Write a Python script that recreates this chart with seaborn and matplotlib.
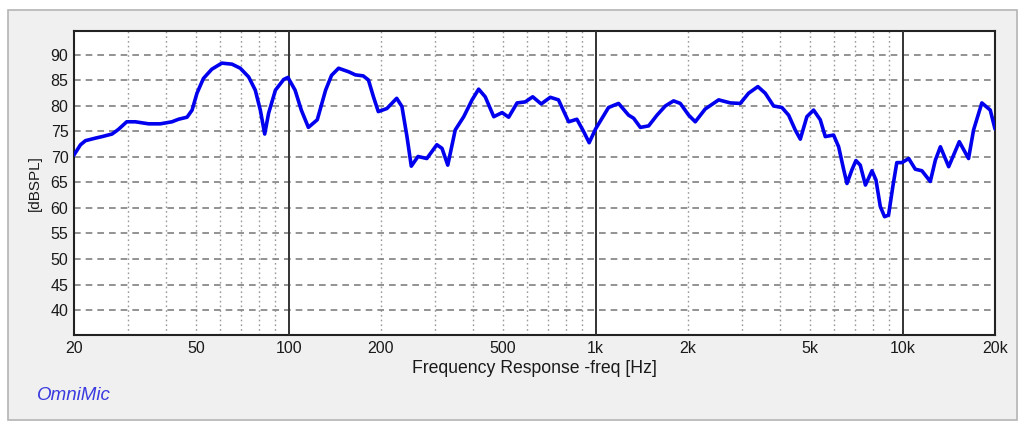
import matplotlib
matplotlib.use("Agg")
import matplotlib.pyplot as plt
import matplotlib.patches as patches
from matplotlib.ticker import FixedLocator, NullFormatter
import seaborn as sns
import pandas as pd

# Frequency response (Hz, dBSPL)
freq = [20, 21, 21.8, 23.5, 24.7, 26.6, 27.9, 29.7, 31.7, 35, 38.2, 41.7, 43.8, 46.7,
        48.5, 50.3, 52.8, 56.2, 60.6, 65.4, 69.6, 74.1, 77.9, 80.9, 83.6, 86.1, 90.6,
        96.4, 99.5, 105, 110, 116, 124, 132, 138, 145.5, 157, 165, 175, 182, 189, 196,
        209, 225, 234, 243, 251, 264, 282, 304, 316, 330, 349, 372, 396, 416, 437, 466,
        496, 521, 555, 590, 624, 665, 712, 757, 817, 869, 914, 953, 1000, 1102, 1188,
        1281, 1330, 1399, 1489, 1585, 1687, 1795, 1888, 2010, 2112, 2275, 2517, 2748,
        2960, 3150, 3378, 3570, 3800, 4045, 4254, 4470, 4643, 4878, 5129, 5393, 5600,
        5960, 6190, 6430, 6590, 6840, 7047, 7280, 7568, 7950, 8190, 8460, 8735, 9000,
        9294, 9575, 9950, 10470, 11000, 11560, 12310, 12790, 13280, 14130, 15300,
        16400, 17030, 18120, 19300, 20000]
spl = [70.4, 72.4, 73.2, 73.7, 74.0, 74.5, 75.4, 76.9, 76.9, 76.5, 76.5, 76.9, 77.4, 77.8,
       79.2, 82.5, 85.4, 87.2, 88.4, 88.2, 87.4, 85.7, 83.1, 79.2, 74.5, 78.6, 83.1,
       85.2, 85.6, 83.1, 79.2, 75.8, 77.3, 83.1, 86.0, 87.4, 86.7, 86.1, 85.9, 85.1, 81.8, 78.9,
       79.5, 81.5, 79.9, 74.0, 68.2, 70.1, 69.7, 72.4, 71.7, 68.4, 75.3, 77.9, 81.2, 83.3, 81.8, 77.9,
       78.7, 77.8, 80.6, 80.8, 81.8, 80.4, 81.7, 81.2, 76.9, 77.4, 75.0, 72.8, 75.5, 79.7, 80.5,
       78.2, 77.6, 75.8, 76.1, 78.2, 80.0, 81.0, 80.5, 78.2, 76.9, 79.4, 81.2, 80.6,
       80.5, 82.5, 83.8, 82.5, 80.0, 79.7, 78.2, 75.3, 73.5, 77.9, 79.2, 77.3, 74.0,
       74.3, 72.0, 67.5, 64.8, 67.5, 69.3, 68.4, 64.5, 67.3, 65.5, 60.3, 58.3, 58.6,
       64.2, 68.9, 68.9, 69.7, 67.6, 67.3, 65.2, 69.4, 72.0, 68.1, 73.0,
       69.7, 75.3, 80.6, 79.2, 75.5]

x_ticks = [20, 50, 100, 200, 500, 1000, 2000, 5000, 10000, 20000]
x_labels = ["20", "50", "100", "200", "500", "1k", "2k", "5k", "10k", "20k"]
y_ticks = [40, 45, 50, 55, 60, 65, 70, 75, 80, 85, 90]
decades = [100, 1000, 10000]

df = pd.DataFrame({"freq": freq, "spl": spl})

sns.set_style("white")
plt.rcParams["font.family"] = ["Liberation Sans", "DejaVu Sans"]

fig = plt.figure(figsize=(10.24, 4.28), dpi=100, facecolor="white")

# grey panel behind the chart, drawn in its own background axes
bg = fig.add_axes([0, 0, 1, 1], zorder=-10)
bg.set_axis_off()
bg.set_xlim(0, 1)
bg.set_ylim(0, 1)
bg.add_patch(patches.Rectangle((8 / 1024, 1 - 420 / 428), 1009 / 1024, 410 / 428,
                               facecolor="#f0f0f0", edgecolor="#b4b4b4", linewidth=1.2))

ax = fig.add_axes([74 / 1024, 1 - 335 / 428, 921 / 1024, 304 / 428])
ax.set_facecolor("white")

sns.lineplot(data=df, x="freq", y="spl", ax=ax, color="#0000ee", linewidth=2.6, zorder=5)

ax.set_xscale("log")
ax.set_xlim(20, 20000)
ax.set_ylim(35.1, 94.7)

# grid lines
minor = [m * d for d in [10, 100, 1000, 10000] for m in range(2, 10) if 20 < m * d < 20000]
for f in minor:
    ax.axvline(f, color="#9a9a9a", linestyle=(0, (1.2, 2.2)), linewidth=1.0, zorder=1)
for y in y_ticks:
    ax.axhline(y, color="#808080", linestyle=(0, (4, 3)), linewidth=1.2, zorder=2)
for f in decades:
    ax.axvline(f, color="#333333", linewidth=1.4, zorder=3)

ax.xaxis.set_major_locator(FixedLocator(x_ticks))
ax.xaxis.set_minor_locator(FixedLocator([]))
ax.xaxis.set_minor_formatter(NullFormatter())
ax.set_xticklabels(x_labels)
ax.set_yticks(y_ticks)
ax.tick_params(axis="both", length=0, labelsize=11.5, colors="#1a1a1a", pad=4)

for s in ax.spines.values():
    s.set_color("#222222")
    s.set_linewidth(1.5)

ax.set_xlabel("Frequency Response -freq [Hz]", fontsize=12.7, color="#1a1a1a", labelpad=3)
ax.set_ylabel("[dBSPL]", fontsize=11, color="#1a1a1a", labelpad=6)

fig.text(37 / 1024, 1 - 396 / 428, "OmniMic", color="#3a3ae0", fontsize=13.5,
         style="italic", va="center", ha="left")

fig.savefig("out.png", dpi=100, facecolor=fig.get_facecolor())
